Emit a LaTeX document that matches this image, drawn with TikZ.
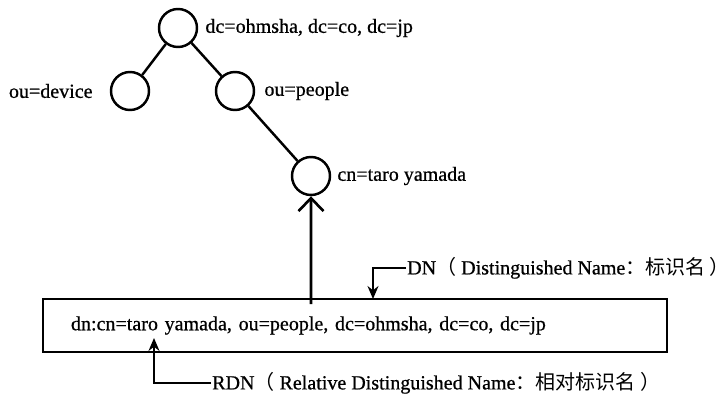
\documentclass[tikz,border=0pt]{standalone}
\usepackage{fontspec}
\setmainfont{Liberation Serif}[FakeBold=0.7]
\newfontfamily\cjk{Noto Sans CJK SC}
\usepackage{tikz}
\usetikzlibrary{arrows.meta,positioning,calc}

\begin{document}
\begin{tikzpicture}[every node/.style={font=\fontsize{11.4}{13}\selectfont},
    vertex/.style={circle, draw, line width=1.4pt, minimum size=0.76cm, inner sep=0pt},
    edge/.style={line width=1.4pt},
    note/.style={anchor=west, inner sep=0.5pt}]
  \useasboundingbox (0,0) rectangle (14.54,7.96);
  % Directory tree
  \node[vertex] (root)   at (3.56,7.40) {};
  \node[vertex] (device) at (2.60,6.14) {};
  \node[vertex] (people) at (4.70,6.14) {};
  \node[vertex] (taro)   at (6.22,4.44) {};
  \draw[edge] (root) -- (device);
  \draw[edge] (root) -- (people);
  \draw[edge] (people) -- (taro);
  \node[right=0.02cm of root]   (rootlbl)   {dc=ohmsha, dc=co, dc=jp};
  \node[left=0.22cm of device]  (devicelbl) {ou=device};
  \node[right=0.06cm of people] (peoplelbl) {ou=people};
  \node[right=0.0cm of taro]    (tarolbl)   {cn=taro yamada};
  % DN entry
  \node[draw, line width=1.1pt, minimum width=12.48cm, minimum height=1.06cm,
        text width=11.36cm, align=left] (dnbox) at (7.10,1.45)
        {dn:cn=taro yamada, ou=people, dc=ohmsha, dc=co, dc=jp};
  \draw[line width=1.5pt, -{Straight Barb[length=2.6mm,width=5mm]}]
        ($(dnbox.north)+(-0.88,-0.12)$) -- (taro);
  % DN / RDN labels
  \node[note] (dn) at (8.12,2.60)
        {DN{\cjk（} Distinguished Name{\cjk：标识名 ）}};
  \node[note] (rdn) at (4.22,0.30)
        {RDN{\cjk（} Relative Distinguished Name{\cjk：相对标识名 ）}};
  \coordinate (dntip)  at (7.46,1.98);
  \coordinate (rdntip) at (3.08,1.20);
  \draw[line width=0.8pt, -{Stealth[length=2.6mm,width=2.2mm]}] (dn.west) -| (dntip);
  \draw[line width=0.8pt, -{Stealth[length=2.6mm,width=2.2mm]}] (rdn.west) -| (rdntip);
\end{tikzpicture}
\end{document}
